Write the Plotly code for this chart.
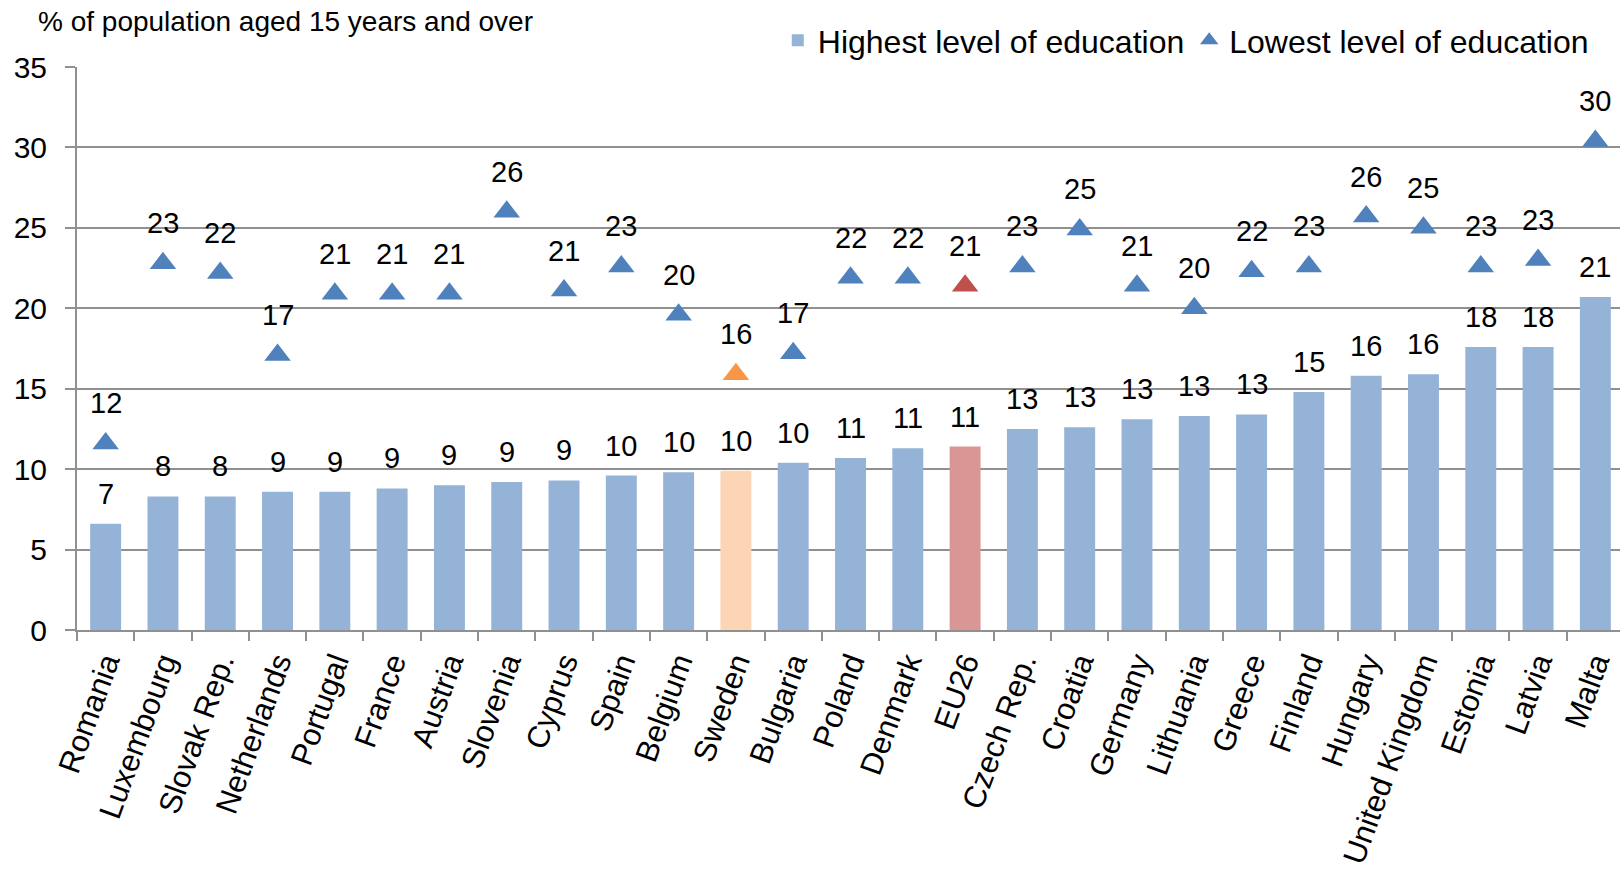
import plotly.graph_objects as go

# Countries ordered by share among people with the highest level of education
countries = ["Romania", "Luxembourg", "Slovak Rep.", "Netherlands", "Portugal", "France",
             "Austria", "Slovenia", "Cyprus", "Spain", "Belgium", "Sweden", "Bulgaria",
             "Poland", "Denmark", "EU26", "Czech Rep.", "Croatia", "Germany", "Lithuania",
             "Greece", "Finland", "Hungary", "United Kingdom", "Estonia", "Latvia", "Malta"]

highest_edu = [6.6, 8.3, 8.3, 8.6, 8.6, 8.8, 9.0, 9.2, 9.3, 9.6, 9.8, 9.9, 10.4,
               10.7, 11.3, 11.4, 12.5, 12.6, 13.1, 13.3, 13.4, 14.8, 15.8, 15.9,
               17.6, 17.6, 20.7]

lowest_edu = [11.6, 22.8, 22.2, 17.1, 20.9, 20.9, 20.9, 26.0, 21.1, 22.6, 19.6, 15.9,
              17.2, 21.9, 21.9, 21.4, 22.6, 24.9, 21.4, 20.0, 22.3, 22.6, 25.7, 25.0,
              22.6, 23.0, 30.4]

y_ticks = [0, 5, 10, 15, 20, 25, 30, 35]

# Highlight colours for Sweden and the EU average
BAR_BLUE, TRI_BLUE = "#95B3D7", "#4F81BD"
highlight_bar = {"Sweden": "#FCD5B5", "EU26": "#DA9694"}
highlight_tri = {"Sweden": "#F79646", "EU26": "#C0504D"}

bar_colors = [highlight_bar.get(c, BAR_BLUE) for c in countries]
tri_colors = [highlight_tri.get(c, TRI_BLUE) for c in countries]

FONT = "Arial, Liberation Sans, sans-serif"
GRID = "#909090"


def rounded(v):
    # round half up, as spreadsheet labels do
    return str(int(v + 0.5))


fig = go.Figure()

fig.add_trace(go.Bar(
    x=countries, y=highest_edu, name="Highest level of education",
    marker=dict(color=bar_colors, line=dict(width=0)),
    width=0.54,
))

fig.add_trace(go.Scatter(
    x=countries, y=lowest_edu, name="Lowest level of education",
    mode="markers",
    marker=dict(symbol="triangle-up", size=23, color=tri_colors, line=dict(width=0)),
))

annotations = []
for c, v in zip(countries, highest_edu):
    annotations.append(dict(x=c, y=v, text=rounded(v), showarrow=False,
                            yanchor="bottom", yshift=12,
                            font=dict(family=FONT, size=29, color="#000")))
for c, v in zip(countries, lowest_edu):
    annotations.append(dict(x=c, y=v, text=rounded(v), showarrow=False,
                            yanchor="bottom", yshift=22,
                            font=dict(family=FONT, size=29, color="#000")))

fig.update_layout(
    width=1620, height=873,
    margin=dict(l=77, r=0, t=67, b=243),
    paper_bgcolor="white", plot_bgcolor="white",
    font=dict(family=FONT, color="#000"),
    title=dict(text="% of population aged 15 years and over",
               x=38 / 1620, xanchor="left", y=1 - 21 / 873, yanchor="middle",
               font=dict(family=FONT, size=28, color="#000")),
    showlegend=True,
    legend=dict(orientation="h", x=0.983, xanchor="right", y=1.047, yanchor="middle",
                font=dict(family=FONT, size=32, color="#000"),
                bgcolor="rgba(0,0,0,0)", traceorder="normal"),
    bargap=0.46,
    annotations=annotations,
)

fig.update_xaxes(
    type="category", range=[-0.5, 26.43],
    showline=True, linecolor=GRID, linewidth=2,
    ticks="outside", tickson="boundaries", ticklen=9, tickcolor=GRID, tickwidth=2,
    tickangle=-70, tickfont=dict(family=FONT, size=31, color="#000"),
    showgrid=False, automargin=False,
)

fig.update_yaxes(
    range=[0, 35], tickvals=y_ticks,
    showline=True, linecolor=GRID, linewidth=2,
    ticks="outside", ticklen=10, tickcolor=GRID, tickwidth=2,
    ticklabelstandoff=12,
    showgrid=True, gridcolor=GRID, gridwidth=2,
    zeroline=False,
    tickfont=dict(family=FONT, size=30, color="#000"),
    automargin=False,
)

fig.write_html("out.html")
